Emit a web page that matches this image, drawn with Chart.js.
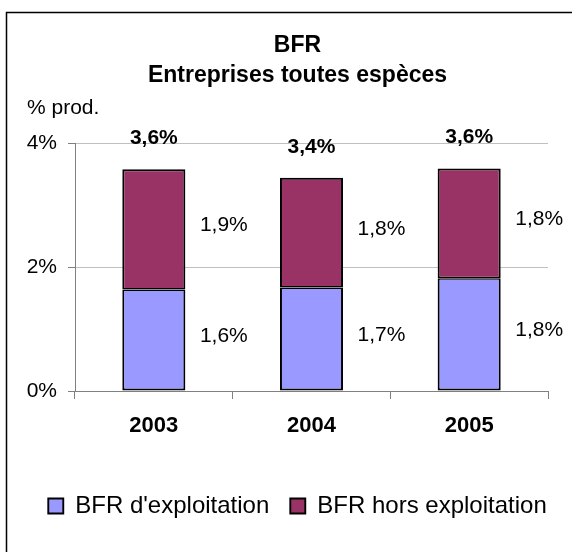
<!DOCTYPE html>
<html lang="fr">
<head>
<meta charset="utf-8">
<title>BFR - Entreprises toutes espèces</title>
<script src="https://cdn.jsdelivr.net/npm/chart.js@4/dist/chart.umd.min.js"></script>
<style>
  html, body { margin: 0; padding: 0; background: #fff; }
  #wrap { position: relative; width: 572px; height: 552px; }
</style>
</head>
<body>
<div id="wrap"><canvas id="bfrChart"></canvas></div>
<script>
"use strict";

// Données (en % de la production).
const YEARS = ["2003", "2004", "2005"];
const BFR_EXPLOITATION = [1.64, 1.67, 1.82];
const BFR_HORS_EXPLOITATION = [1.94, 1.77, 1.77];
const SERIES_NAMES = ["BFR d'exploitation", "BFR hors exploitation"];
const Y_TICKS = [0, 2, 4];
const TITLE_LINES = ["BFR", "Entreprises toutes espèces"];
const Y_UNIT = "% prod.";

const FONT = "'Liberation Sans', Arial, sans-serif";
const fmtPct = (v) => v.toFixed(1).replace(".", ",") + "%";

Chart.defaults.font.family = FONT;
Chart.defaults.color = "#000";

// Cadre, unité de l'axe et étiquettes de valeurs.
const decorations = {
  id: "decorations",
  beforeDraw(chart) {
    const ctx = chart.ctx;
    ctx.save();
    ctx.fillStyle = "#fff";
    ctx.fillRect(0, 0, chart.width, chart.height);
    ctx.strokeStyle = "#000";
    ctx.lineWidth = 1.5;
    ctx.beginPath();
    ctx.moveTo(6.5, chart.height + 2);
    ctx.lineTo(6.5, 12.5);
    ctx.lineTo(chart.width + 2, 12.5);
    ctx.stroke();
    ctx.restore();
  },
  afterDatasetsDraw(chart) {
    const ctx = chart.ctx;
    const area = chart.chartArea;
    ctx.save();
    ctx.fillStyle = "#000";
    ctx.textBaseline = "middle";

    ctx.textAlign = "left";
    ctx.font = "21px " + FONT;
    ctx.fillText(Y_UNIT, 27, area.top - 35);

    // valeurs de chaque segment, à droite de la barre
    ctx.textAlign = "center";
    chart.data.datasets.forEach((ds, i) => {
      chart.getDatasetMeta(i).data.forEach((bar, j) => {
        ctx.fillText(fmtPct(ds.data[j]), bar.x + 70, (bar.y + bar.base) / 2 - 4);
      });
    });

    // total au-dessus de la barre
    ctx.font = "bold 21px " + FONT;
    const top = chart.getDatasetMeta(chart.data.datasets.length - 1).data;
    top.forEach((bar, j) => {
      const total = BFR_EXPLOITATION[j] + BFR_HORS_EXPLOITATION[j];
      ctx.fillText(fmtPct(total), bar.x, chart.scales.y.getPixelForValue(total) - 31);
    });
    ctx.restore();
  },
};

new Chart(document.getElementById("bfrChart"), {
  type: "bar",
  data: {
    labels: YEARS,
    datasets: [
      {
        label: SERIES_NAMES[0],
        data: BFR_EXPLOITATION,
        backgroundColor: "#9999FF",
        borderColor: "#000",
        borderWidth: { top: 1.5, left: 2, right: 2, bottom: 2 },
        borderSkipped: false,
      },
      {
        label: SERIES_NAMES[1],
        data: BFR_HORS_EXPLOITATION,
        backgroundColor: "#993366",
        borderColor: "#000",
        borderWidth: { top: 2, left: 2, right: 2, bottom: 1.5 },
        borderSkipped: false,
      },
    ],
  },
  options: {
    responsive: true,
    maintainAspectRatio: false,
    animation: false,
    datasets: { bar: { barPercentage: 0.4, categoryPercentage: 1 } },
    layout: { padding: { top: 12, left: 27, right: 4, bottom: 24 } },
    plugins: {
      tooltip: { enabled: false },
      title: {
        display: true,
        text: TITLE_LINES,
        color: "#000",
        font: { size: 23, weight: "bold", lineHeight: 1.33 },
        padding: { top: 18, bottom: 52 },
      },
      legend: {
        position: "bottom",
        labels: {
          color: "#000",
          font: { size: 24 },
          boxWidth: 15,
          boxHeight: 15,
          padding: 21,
        },
      },
    },
    scales: {
      x: {
        stacked: true,
        afterFit: (s) => { s.height = 82; },
        border: { color: "#808080", width: 1 },
        grid: { drawOnChartArea: false, offset: true, tickLength: 8, tickColor: "#808080" },
        ticks: { font: { size: 22, weight: "bold" }, padding: 14, color: "#000" },
      },
      y: {
        stacked: true,
        min: 0,
        max: 4,
        afterFit: (s) => { s.width = 48; },
        afterBuildTicks: (s) => { s.ticks = Y_TICKS.map((v) => ({ value: v })); },
        border: { color: "#808080", width: 1 },
        grid: {
          color: (c) => (c.tick && c.tick.value === 0 ? "#808080" : "#c0c0c0"),
          tickLength: 7,
          tickColor: "#808080",
        },
        ticks: { font: { size: 21 }, padding: 11, color: "#000", callback: (v) => v + "%" },
      },
      // marge droite invisible : réserve l'espace à droite de la zone de tracé
      yRight: {
        position: "right",
        display: true,
        afterFit: (s) => { s.width = 20; },
        grid: { display: false },
        border: { display: false },
        ticks: { display: false },
      },
    },
  },
  plugins: [decorations],
});
</script>
</body>
</html>
